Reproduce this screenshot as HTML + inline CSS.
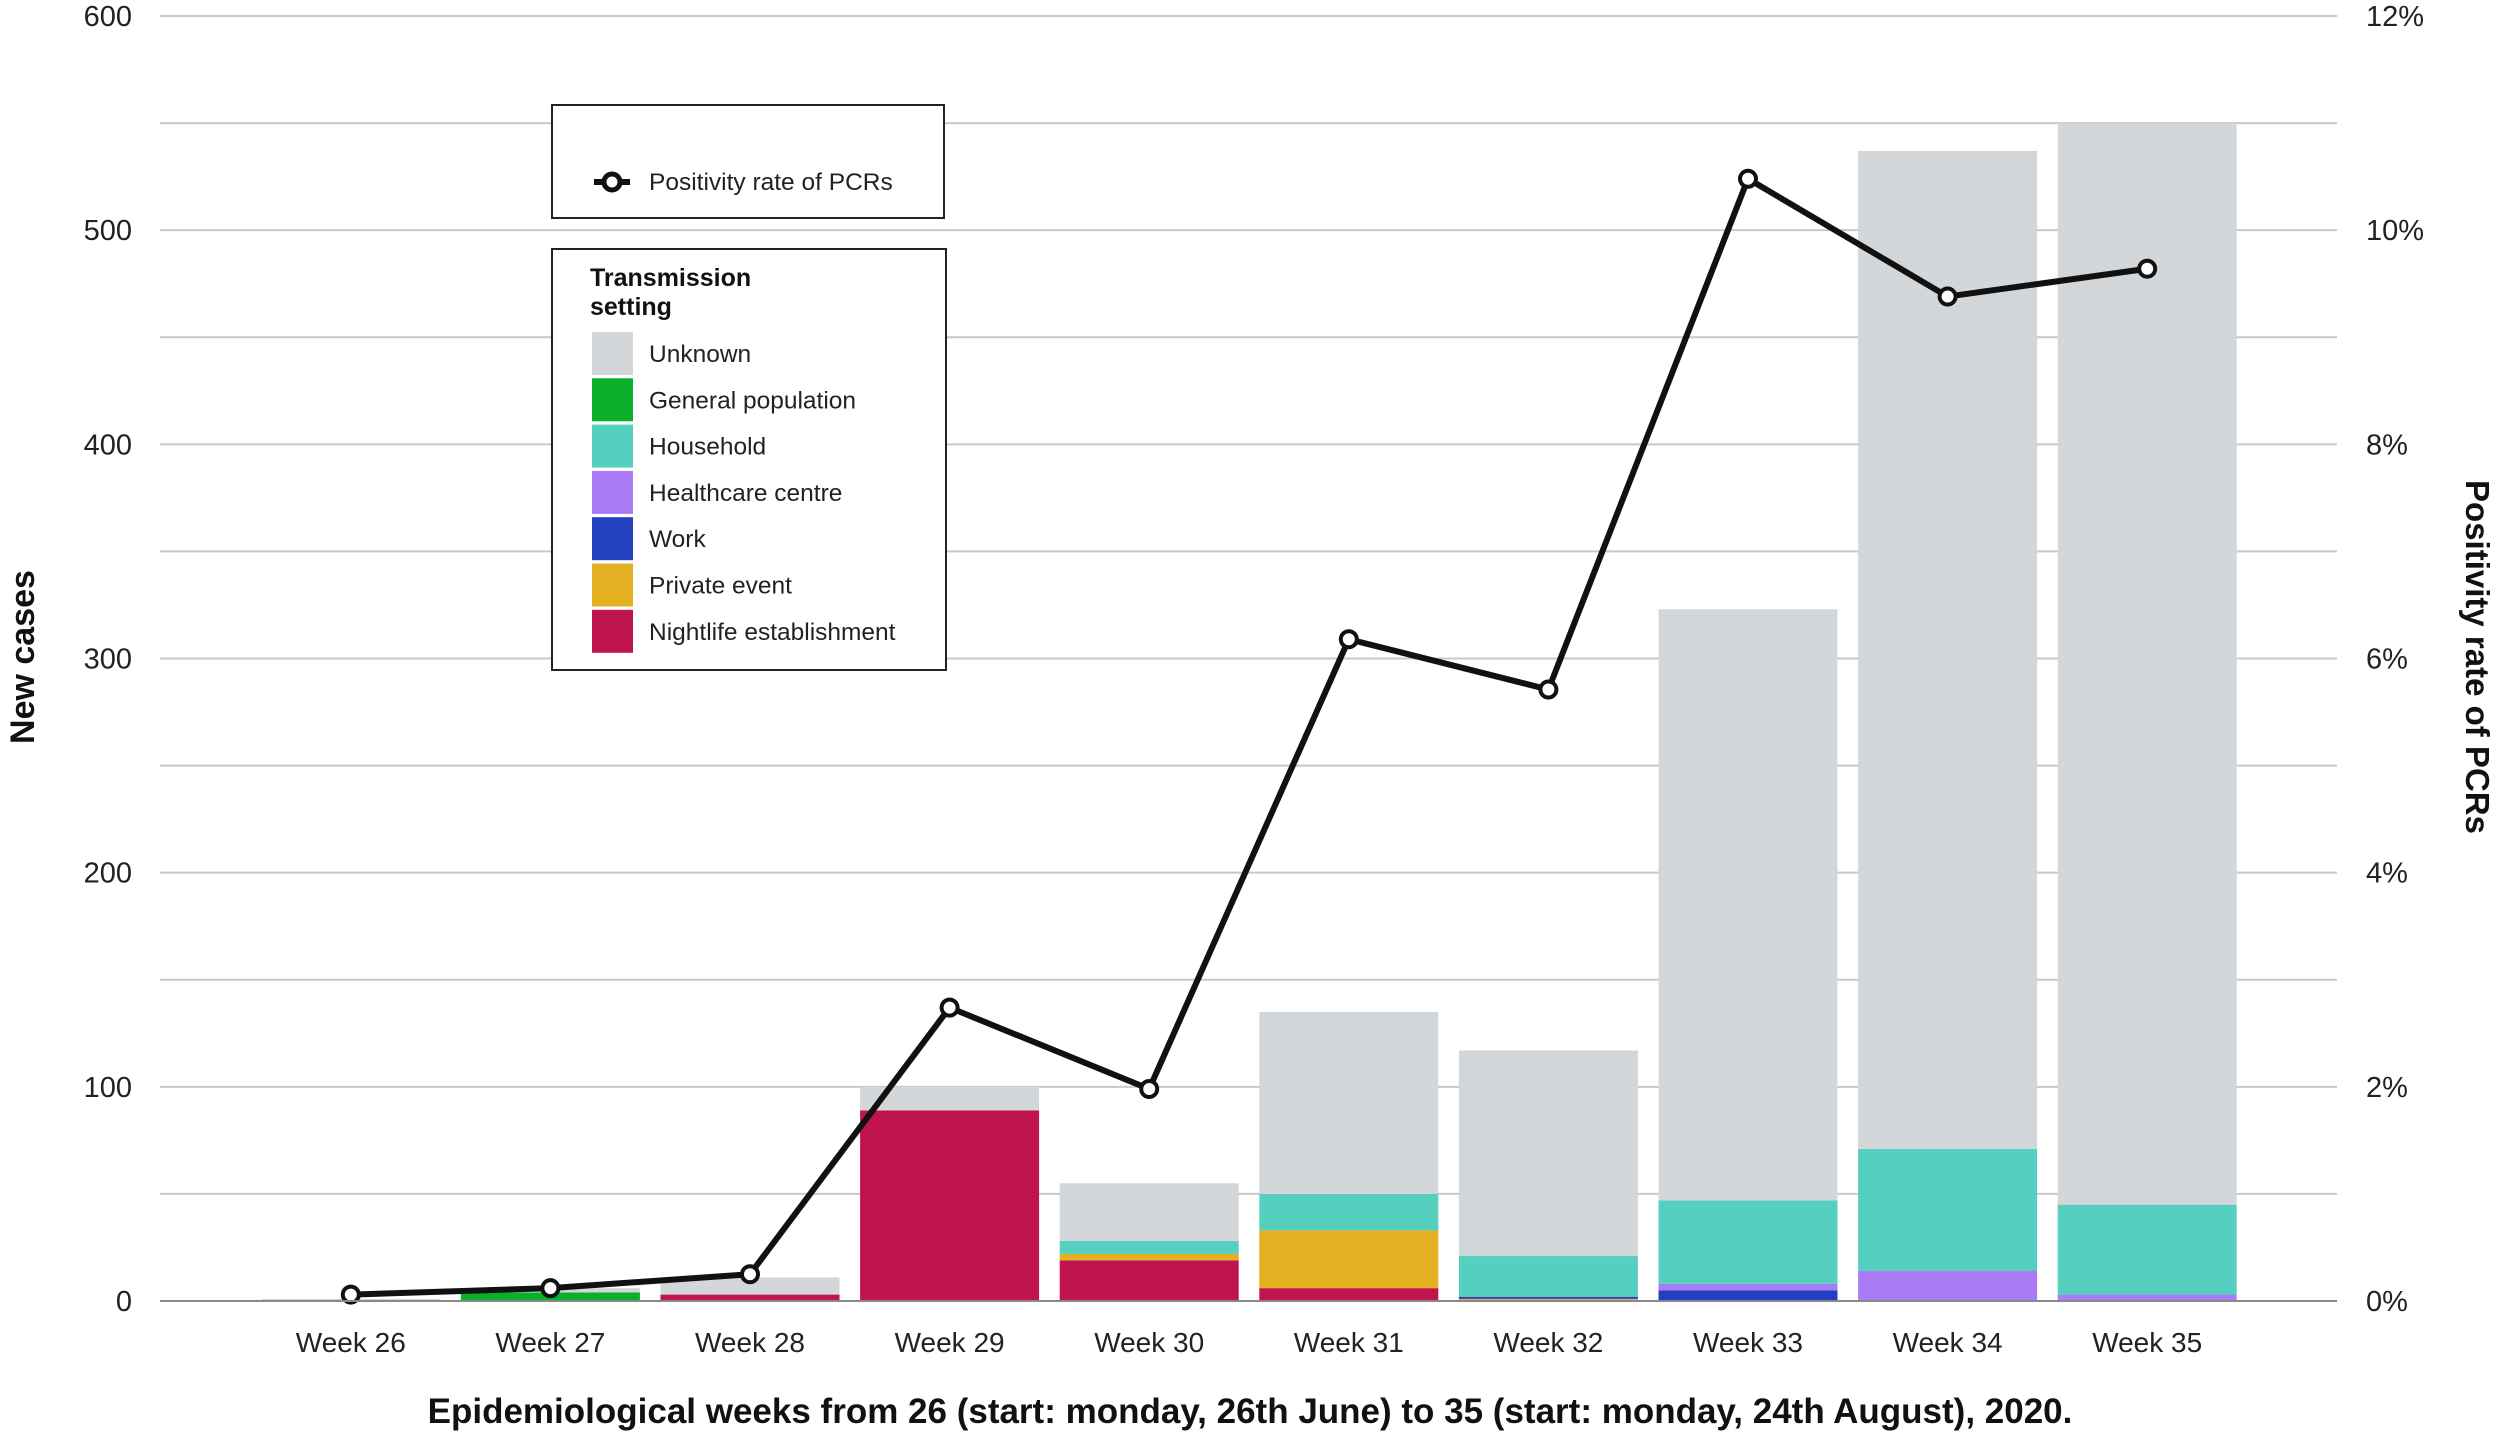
<!DOCTYPE html>
<html><head><meta charset="utf-8">
<style>
html,body{margin:0;padding:0;background:#fff;}
svg{display:block;font-family:"Liberation Sans",Arial,sans-serif;}
</style></head>
<body>
<svg id="chart" width="2500" height="1437" viewBox="0 0 2500 1437" xmlns="http://www.w3.org/2000/svg">
<g id="grid"></g>
<g id="bars"></g>
<g id="line"></g>
<g id="axes"></g>
<text transform="translate(34,657) rotate(-90)" text-anchor="middle" font-size="34" font-weight="bold" fill="#111">New cases</text>
<text transform="translate(2466,657) rotate(90)" text-anchor="middle" font-size="33" font-weight="bold" fill="#111">Positivity rate of PCRs</text>
<text x="1250" y="1423" text-anchor="middle" font-size="35" font-weight="bold" fill="#111">Epidemiological weeks from 26 (start: monday, 26th June) to 35 (start: monday, 24th August), 2020.</text>
<g>
<rect x="552" y="105" width="392" height="113" fill="#fff" stroke="#222" stroke-width="2"/>
<line x1="594" y1="182" x2="630" y2="182" stroke="#111" stroke-width="6"/>
<circle cx="612" cy="182" r="8" fill="#fff" stroke="#111" stroke-width="5"/>
<text x="649" y="190" font-size="24.5" fill="#222">Positivity rate of PCRs</text>
</g>
<g id="legend2">
<rect x="552" y="249" width="394" height="421" fill="#fff" stroke="#222" stroke-width="2"/>
<text x="590" y="286" font-size="25" font-weight="bold" fill="#111">Transmission</text>
<text x="590" y="315" font-size="25" font-weight="bold" fill="#111">setting</text>
</g>
</svg>
<script>
const weeks = ["Week 26","Week 27","Week 28","Week 29","Week 30","Week 31","Week 32","Week 33","Week 34","Week 35"];
const nightlife = [0,0,3,89,19,6,0,0,0,0];
const privateEvent = [0,0,0,0,3,27,1,0,0,0];
const work = [0,0,0,0,0,0,1,5,0,0];
const healthcare = [0,0,0,0,0,0,0,3,14,3];
const household = [0,0,0,0,6,17,19,39,57,42];
const generalPop = [0,4,0,0,0,0,0,0,0,0];
const unknown = [1,2,8,11,27,85,96,276,466,505];
const positivity = [0.06,0.12,0.25,2.74,1.98,6.18,5.71,10.48,9.38,9.64];
const leftTicks = [0,100,200,300,400,500,600];
const rightTicks = ["0%","2%","4%","6%","8%","10%","12%"];

const NS="http://www.w3.org/2000/svg";
const X0=160,X1=2337,Y0=1301,Y600=16;
const yC=v=>Y0-(v/600)*(Y0-Y600);
const yP=p=>Y0-(p/12)*(Y0-Y600);
const xC=i=>350.8+i*199.6;
const BW=179;
function mk(tag,attrs,parent){const e=document.createElementNS(NS,tag);for(const k in attrs)e.setAttribute(k,attrs[k]);parent.appendChild(e);return e;}
const grid=document.getElementById('grid'),bars=document.getElementById('bars'),line=document.getElementById('line'),axes=document.getElementById('axes');
for(let v=50;v<=600;v+=50){
  const g=mk('line',{x1:X0,x2:X1,y1:yC(v),y2:yC(v),stroke:'#c8c8c8','stroke-width':2},grid);
  
  
}
const series=[["nightlife",nightlife,"#c0144f"],["private-event",privateEvent,"#e4b021"],["work",work,"#2240c0"],["healthcare",healthcare,"#a97cf5"],["household",household,"#55cfc0"],["general-population",generalPop,"#0aaf2a"],["unknown",unknown,"#d4d7da"]];
weeks.forEach((w,i)=>{
  let base=0;
  series.forEach(([n,arr,c])=>{
    const v=arr[i]; if(v<=0)return;
    const r=mk('rect',{x:xC(i)-BW/2,y:yC(base+v),width:BW,height:yC(base)-yC(base+v),fill:c},bars);
    
    
    base+=v;
  });
  const t=mk('text',{x:xC(i),y:1352,'text-anchor':'middle','font-size':28,fill:'#222'},axes);
  t.textContent=w;
  
  
});
const zl=mk('line',{x1:X0,x2:X1,y1:Y0,y2:Y0,stroke:'#888','stroke-width':2},axes);


leftTicks.forEach((v,i)=>{
  const t=mk('text',{x:132,y:yC(v)+10,'text-anchor':'end','font-size':29,fill:'#222'},axes);
  t.textContent=v;
  
  
  const t2=mk('text',{x:2366,y:yC(v)+10,'font-size':29,fill:'#222'},axes);
  t2.textContent=rightTicks[i];
  
  
});
const pts=positivity.map((p,i)=>xC(i)+','+yP(p)).join(' ');
const pl=mk('polyline',{points:pts,fill:'none',stroke:'#111','stroke-width':6,'stroke-linejoin':'round'},line);


positivity.forEach((p,i)=>{
  const c=mk('circle',{cx:xC(i),cy:yP(p),r:8,fill:'#fff',stroke:'#111','stroke-width':4},line);
  
  
});
const leg=document.getElementById('legend2');
const items=[["Unknown","#d4d7da"],["General population","#0aaf2a"],["Household","#55cfc0"],["Healthcare centre","#a97cf5"],["Work","#2240c0"],["Private event","#e4b021"],["Nightlife establishment","#c0144f"]];
items.forEach(([n,c],i)=>{
  const y=332+i*46.3;
  const s=mk('rect',{x:592,y:y,width:41,height:43,fill:c},leg);
  
  
  const t=mk('text',{x:649,y:y+30,'font-size':24.5,fill:'#222'},leg);
  t.textContent=n;
  
  
});
</script>
</body></html>
